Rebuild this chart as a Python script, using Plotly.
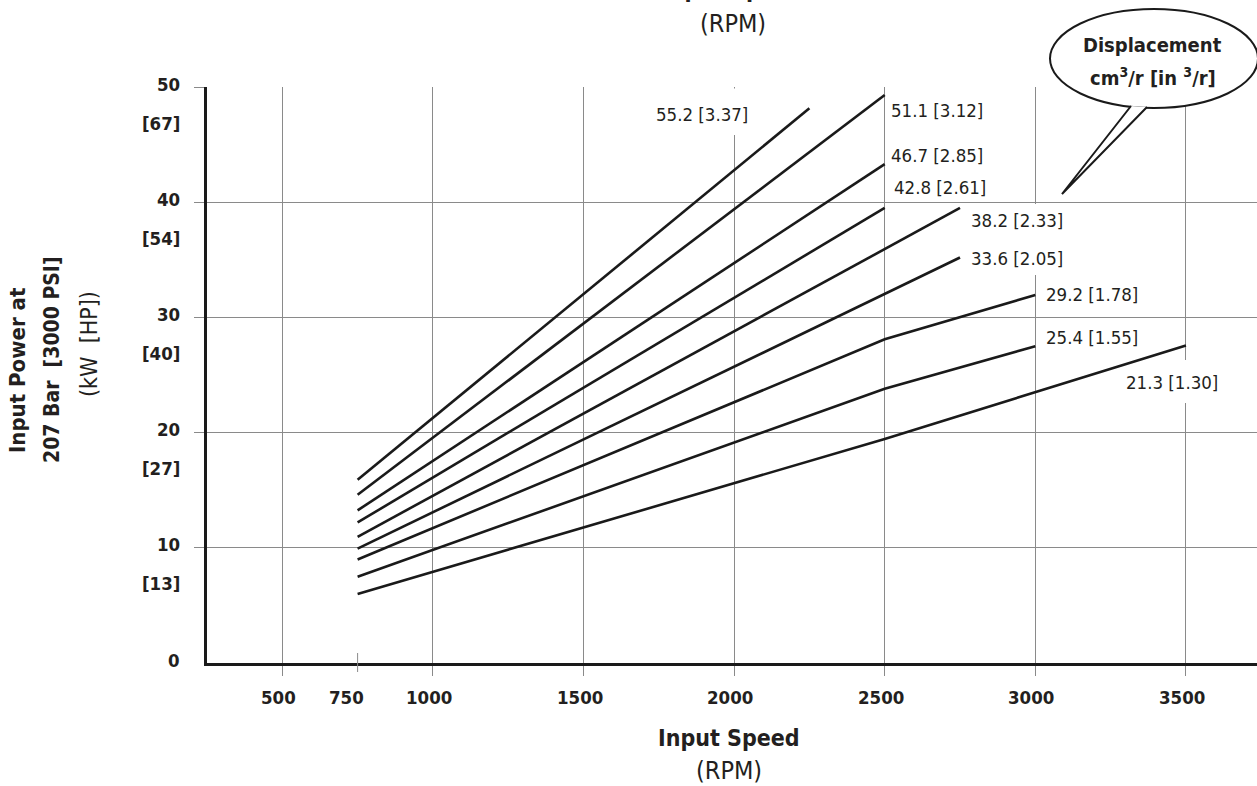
import plotly.graph_objects as go

# ---------------- data ----------------
series_labels = ["55.2 [3.37]", "51.1 [3.12]", "46.7 [2.85]", "42.8 [2.61]",
                 "38.2 [2.33]", "33.6 [2.05]", "29.2 [1.78]", "25.4 [1.55]", "21.3 [1.30]"]
speed_55 = [750, 2250]; power_55 = [15.9, 48.15]
speed_51 = [750, 2500]; power_51 = [14.6, 49.3]
speed_46 = [750, 2500]; power_46 = [13.25, 43.3]
speed_42 = [750, 2500]; power_42 = [12.2, 39.5]
speed_38 = [750, 2750]; power_38 = [10.95, 39.5]
speed_33 = [750, 2750]; power_33 = [9.93, 35.2]
speed_29 = [750, 2500, 3000]; power_29 = [8.98, 28.1, 31.95]
speed_25 = [750, 2500, 3000]; power_25 = [7.48, 23.8, 27.5]
speed_21 = [750, 2500, 3500]; power_21 = [6.0, 19.45, 27.56]
speeds = [speed_55, speed_51, speed_46, speed_42, speed_38, speed_33, speed_29, speed_25, speed_21]
powers = [power_55, power_51, power_46, power_42, power_38, power_33, power_29, power_25, power_21]

x_ticks = [500, 750, 1000, 1500, 2000, 2500, 3000, 3500]
x_grid = [500, 1000, 1500, 2000, 2500, 3000, 3500]
y_ticks = [0, 10, 20, 30, 40, 50]
y_hp = ["", "[13]", "[27]", "[40]", "[54]", "[67]"]

# ---------------- layout geometry ----------------
W, H = 1257, 786
L, R, T, B = 207, 0, 87, 123
PW, PH = W - L - R, H - T - B
X0, X1 = 250, 3736
Y0, Y1 = 0, 50

def xp(px):
    return (px - L) / PW

def yp(py):
    return (H - B - py) / PH

def x_of(px):
    return X0 + (px - L) / PW * (X1 - X0)

def y_of(py):
    return Y0 + (H - B - py) / PH * (Y1 - Y0)

FONT = "Liberation Sans Narrow, DejaVu Sans Condensed, Arial Narrow, sans-serif"
TXT = "#231f20"
GRID = "#8a8a8a"

fig = go.Figure()
for sx, sy in zip(speeds, powers):
    fig.add_trace(go.Scatter(x=sx, y=sy, mode="lines",
                             line=dict(color="#1a1a1a", width=2.6),
                             showlegend=False, hoverinfo="skip"))

annotations = []
# line labels: center in pixels
label_pos = [(702, 114), (937, 110), (937, 155), (940, 187),
             (1017, 220), (1017, 258), (1092, 294), (1092, 337), (1172, 382)]
for text, (cx, cy) in zip(series_labels, label_pos):
    annotations.append(dict(x=x_of(cx), y=y_of(cy), xref="x", yref="y", text=text,
                            showarrow=False, font=dict(family=FONT, size=18.5, color=TXT),
                            xanchor="center", yanchor="middle"))

# x tick labels
for v in x_ticks:
    shift = -11 if v == 750 else -4
    annotations.append(dict(x=v, y=yp(697), xref="x", yref="paper", text="<b>%d</b>" % v,
                            showarrow=False, xshift=shift,
                            font=dict(family=FONT, size=18.5, color=TXT),
                            xanchor="center", yanchor="middle"))
# y tick labels
for v, hp in zip(y_ticks, y_hp):
    annotations.append(dict(x=xp(182), y=v, xref="paper", yref="y", text="<b>%d</b>" % v,
                            showarrow=False, yshift=3,
                            font=dict(family=FONT, size=18.5, color=TXT),
                            xanchor="right", yanchor="middle"))
    if hp:
        annotations.append(dict(x=xp(182), y=v, xref="paper", yref="y", text="<b>%s</b>" % hp,
                                showarrow=False, yshift=-36,
                                font=dict(family=FONT, size=18.5, color=TXT),
                                xanchor="right", yanchor="middle"))

# x axis titles (bottom, and the clipped copy at the top)
for cx, cy_title, cy_unit in [(729, 738, 770), (733, -11.5, 23.3)]:
    annotations.append(dict(x=xp(cx), y=yp(cy_title), xref="paper", yref="paper",
                            text="<b>Input Speed</b>", showarrow=False,
                            font=dict(family=FONT, size=23, color=TXT),
                            xanchor="center", yanchor="middle"))
    annotations.append(dict(x=xp(cx), y=yp(cy_unit), xref="paper", yref="paper",
                            text="(RPM)", showarrow=False,
                            font=dict(family=FONT, size=25, color=TXT),
                            xanchor="center", yanchor="middle"))

ytitle = [("<b>Input Power at</b>", 17, 370, 22), ("<b>207 Bar  [3000 PSI]</b>", 52, 360, 21),
          ("(kW  [HP])", 89, 344, 23)]
for text, cx, cy, fs in ytitle:
    annotations.append(dict(x=xp(cx), y=yp(cy), xref="paper", yref="paper", text=text,
                            showarrow=False, textangle=-90,
                            font=dict(family=FONT, size=fs, color=TXT),
                            xanchor="center", yanchor="middle"))

# callout text
annotations.append(dict(x=xp(1152), y=yp(45), xref="paper", yref="paper",
                        text="<b>Displacement</b>", showarrow=False,
                        font=dict(family=FONT, size=20, color=TXT),
                        xanchor="center", yanchor="middle"))
annotations.append(dict(x=xp(1153), y=yp(77), xref="paper", yref="paper",
                        text="<b>cm<sup>3</sup>/r [in <sup>3</sup>/r]</b>", showarrow=False,
                        font=dict(family=FONT, size=20, color=TXT),
                        xanchor="center", yanchor="middle"))

shapes = []
# short 750 tick crossing the axis
shapes.append(dict(type="line", xref="x", yref="paper", x0=750, x1=750,
                   y0=yp(672), y1=yp(653), line=dict(color=GRID, width=1)))
# gaps in the grid lines behind the labels (above grid, below the curves)
for (gx0, gx1, gy0, gy1) in [(729, 741, 88.5, 135), (1030, 1042, 204, 275), (1181, 1193, 360, 403)]:
    shapes.append(dict(type="rect", xref="x", yref="y", x0=x_of(gx0), x1=x_of(gx1),
                       y0=y_of(gy1), y1=y_of(gy0), line=dict(width=0),
                       fillcolor="white", layer="between"))
# callout bubble
shapes.append(dict(type="circle", xref="paper", yref="paper",
                   x0=xp(1050), x1=xp(1258), y0=yp(108), y1=yp(9),
                   line=dict(color="#1a1a1a", width=2), fillcolor="white", layer="above"))
a = (xp(1131), yp(106)); tip = (xp(1062), yp(194)); b = (xp(1147), yp(107))
shapes.append(dict(type="path", xref="paper", yref="paper",
                   path="M %f,%f L %f,%f L %f,%f" % (a[0], a[1], tip[0], tip[1], b[0], b[1]),
                   line=dict(color="#1a1a1a", width=2), fillcolor="white", layer="above"))

fig.update_layout(
    width=W, height=H,
    margin=dict(l=L, r=R, t=T, b=B, pad=0),
    paper_bgcolor="white", plot_bgcolor="white",
    showlegend=False,
    annotations=annotations, shapes=shapes,
    xaxis=dict(range=[X0, X1], tickvals=x_grid, showticklabels=False,
               ticks="outside", ticklen=10, tickcolor=GRID, tickwidth=1,
               showgrid=True, gridcolor=GRID, gridwidth=1, zeroline=False,
               showline=True, linecolor="#1a1a1a", linewidth=3),
    yaxis=dict(range=[Y0, Y1], tickvals=y_ticks[1:], showticklabels=False,
               ticks="outside", ticklen=10, tickcolor=GRID, tickwidth=1,
               showgrid=True, gridcolor=GRID, gridwidth=1, zeroline=False,
               showline=True, linecolor="#1a1a1a", linewidth=3),
)

fig.write_html("out.html")
